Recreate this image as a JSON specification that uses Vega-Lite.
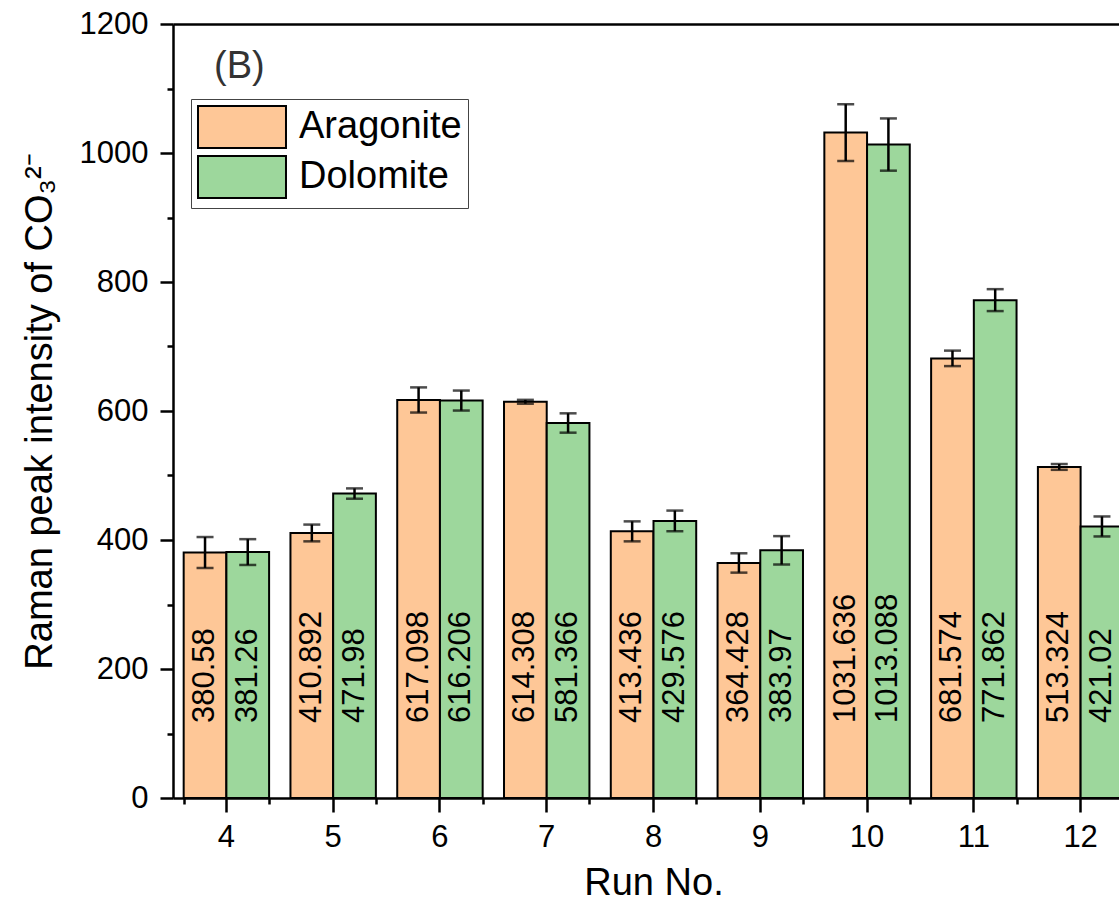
{
  "$schema": "https://vega.github.io/schema/vega-lite/v6.json",
  "width": 946,
  "height": 774,
  "autosize": {"type": "none"},
  "padding": {"left": 173, "top": 24, "right": 0, "bottom": 115},
  "background": "white",
  "config": {
    "view": {"stroke": null},
    "font": "Liberation Sans",
    "axis": {
      "domainColor": "black", "tickColor": "black", "labelColor": "black", "titleColor": "black",
      "domainWidth": 2.5, "tickWidth": 2.5, "grid": false,
      "labelFont": "Liberation Sans", "titleFont": "Liberation Sans", "titleFontWeight": "normal"
    }
  },
  "data": {
    "values": [
      {"run": 4, "mineral": "Aragonite", "v": 380.58, "lo": 356.6, "hi": 404.6, "base": 0},
      {"run": 4, "mineral": "Dolomite", "v": 381.26, "lo": 361.3, "hi": 401.3, "base": 0},
      {"run": 5, "mineral": "Aragonite", "v": 410.892, "lo": 397.9, "hi": 423.9, "base": 0},
      {"run": 5, "mineral": "Dolomite", "v": 471.98, "lo": 464.0, "hi": 480.0, "base": 0},
      {"run": 6, "mineral": "Aragonite", "v": 617.098, "lo": 597.6, "hi": 636.6, "base": 0},
      {"run": 6, "mineral": "Dolomite", "v": 616.206, "lo": 600.7, "hi": 631.7, "base": 0},
      {"run": 7, "mineral": "Aragonite", "v": 614.308, "lo": 611.3, "hi": 617.3, "base": 0},
      {"run": 7, "mineral": "Dolomite", "v": 581.366, "lo": 566.4, "hi": 596.4, "base": 0},
      {"run": 8, "mineral": "Aragonite", "v": 413.436, "lo": 397.9, "hi": 428.9, "base": 0},
      {"run": 8, "mineral": "Dolomite", "v": 429.576, "lo": 413.6, "hi": 445.6, "base": 0},
      {"run": 9, "mineral": "Aragonite", "v": 364.428, "lo": 349.4, "hi": 379.4, "base": 0},
      {"run": 9, "mineral": "Dolomite", "v": 383.97, "lo": 362.0, "hi": 406.0, "base": 0},
      {"run": 10, "mineral": "Aragonite", "v": 1031.636, "lo": 987.6, "hi": 1075.6, "base": 0},
      {"run": 10, "mineral": "Dolomite", "v": 1013.088, "lo": 972.6, "hi": 1053.6, "base": 0},
      {"run": 11, "mineral": "Aragonite", "v": 681.574, "lo": 669.6, "hi": 693.6, "base": 0},
      {"run": 11, "mineral": "Dolomite", "v": 771.862, "lo": 754.9, "hi": 788.9, "base": 0},
      {"run": 12, "mineral": "Aragonite", "v": 513.324, "lo": 508.8, "hi": 517.8, "base": 0},
      {"run": 12, "mineral": "Dolomite", "v": 421.02, "lo": 405.5, "hi": 436.5, "base": 0}
    ]
  },
  "resolve": {"axis": {"x": "independent", "y": "independent"}},
  "layer": [
    {
      "mark": {"type": "bar", "stroke": "black", "strokeWidth": 2},
      "encoding": {
        "x": {
          "field": "run", "type": "ordinal",
          "scale": {"domain": [4, 5, 6, 7, 8, 9, 10, 11, 12], "range": [0, 961], "paddingInner": 0.2, "paddingOuter": 0.1},
          "axis": {"orient": "bottom", "title": "Run No.", "titleFontSize": 38, "titlePadding": 12, "labelFontSize": 31, "labelAngle": 0, "labelPadding": 10, "tickSize": 14}
        },
        "xOffset": {"field": "mineral", "type": "nominal", "scale": {"domain": ["Aragonite", "Dolomite"]}},
        "y": {
          "field": "v", "type": "quantitative",
          "scale": {"domain": [0, 1200], "nice": false},
          "axis": {"orient": "left", "values": [0, 200, 400, 600, 800, 1000, 1200], "format": "d", "title": "Raman peak intensity of CO₃²⁻", "titleFontSize": 38, "titlePadding": 20, "labelFontSize": 31, "labelPadding": 12, "tickSize": 13}
        },
        "color": {
          "field": "mineral", "type": "nominal",
          "scale": {"domain": ["Aragonite", "Dolomite"], "range": ["#FEC797", "#9DD79C"]},
          "legend": {
            "orient": "none", "legendX": 18, "legendY": 75, "title": null,
            "symbolType": "M-1,-1H3.19V1H-1Z", "symbolSize": 1764,
            "symbolStrokeColor": "black", "symbolStrokeWidth": 2,
            "labelFontSize": 38, "labelFont": "Liberation Sans", "labelColor": "black",
            "labelOffset": 58, "rowPadding": 0, "padding": 6,
            "strokeColor": "#444444", "fillColor": "white", "labelLimit": 400
          }
        }
      }
    },
    {
      "mark": {"type": "rule", "color": "black", "strokeWidth": 2.5},
      "encoding": {
        "x": {"field": "run", "type": "ordinal", "axis": {"orient": "bottom", "tickBand": "extent", "tickSize": 6, "labels": false, "domain": false, "title": null}},
        "xOffset": {"field": "mineral", "type": "nominal"},
        "y": {"field": "lo", "type": "quantitative", "axis": {"orient": "left", "values": [100, 300, 500, 700, 900, 1100], "tickSize": 6, "labels": false, "domain": false, "title": null}},
        "y2": {"field": "hi"}
      }
    },
    {
      "mark": {"type": "tick", "color": "black", "size": 17, "thickness": 2.5},
      "encoding": {
        "x": {"field": "run", "type": "ordinal", "axis": {"orient": "top", "ticks": false, "labels": false, "title": null, "domain": true}},
        "xOffset": {"field": "mineral", "type": "nominal"},
        "y": {"field": "lo", "type": "quantitative", "axis": null}
      }
    },
    {
      "mark": {"type": "tick", "color": "black", "size": 17, "thickness": 2.5},
      "encoding": {
        "x": {"field": "run", "type": "ordinal", "axis": null},
        "xOffset": {"field": "mineral", "type": "nominal"},
        "y": {"field": "hi", "type": "quantitative", "axis": null}
      }
    },
    {
      "mark": {"type": "text", "angle": 270, "align": "left", "baseline": "middle", "dx": 75, "fontSize": 31, "color": "black", "font": "Liberation Sans"},
      "encoding": {
        "x": {"field": "run", "type": "ordinal", "axis": null},
        "xOffset": {"field": "mineral", "type": "nominal"},
        "y": {"field": "base", "type": "quantitative", "axis": null},
        "text": {"field": "v", "type": "nominal"}
      }
    },
    {
      "data": {"values": [{"t": "(B)", "run": 4, "yy": 1133}]},
      "mark": {"type": "text", "align": "center", "baseline": "middle", "dx": 13, "fontSize": 38, "color": "#333333", "font": "Liberation Sans"},
      "encoding": {
        "x": {"field": "run", "type": "ordinal", "axis": null},
        "y": {"field": "yy", "type": "quantitative", "axis": null},
        "text": {"field": "t", "type": "nominal"}
      }
    }
  ]
}
